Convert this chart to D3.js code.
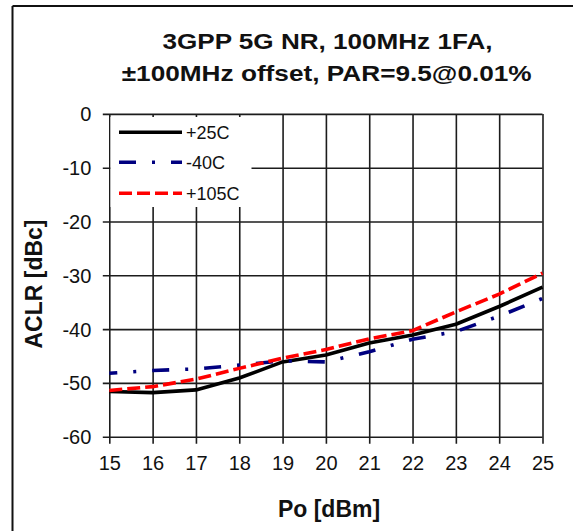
<!DOCTYPE html>
<html><head><meta charset="utf-8">
<script src="https://cdn.jsdelivr.net/npm/d3@7"></script>
<style>
html,body{margin:0;padding:0;background:#fff;}
svg{display:block;}
text{font-family:"Liberation Sans",Arial,sans-serif;fill:#111;}
</style></head>
<body>
<svg id="c" width="573" height="531"></svg>
<script>
const titleLines = ["3GPP 5G NR, 100MHz 1FA,", "\u00b1100MHz offset, PAR=9.5@0.01%"];
const xLabel = "Po [dBm]";
const yLabel = "ACLR [dBc]";
const po = [15, 16, 17, 18, 19, 20, 21, 22, 23, 24, 25];
const xTicks = [15, 16, 17, 18, 19, 20, 21, 22, 23, 24, 25];
const yTicks = [0, -10, -20, -30, -40, -50, -60];
const seriesNames = ["+25C", "-40C", "+105C"];
const aclr25 = [-51.6, -51.8, -51.3, -49.1, -46.1, -44.8, -42.6, -41.1, -39.1, -35.8, -32.2];
const aclrM40 = [-48.2, -47.7, -47.4, -46.7, -45.9, -46.1, -44.2, -41.9, -40.45, -37.6, -34.3];
const aclr105 = [-51.4, -50.7, -49.3, -47.3, -45.4, -43.8, -41.8, -40.3, -36.8, -33.5, -29.6];

const series = [
  {name: seriesNames[0], values: aclr25, color: "#000000", dash: null, offset: 0},
  {name: seriesNames[1], values: aclrM40, color: "#000080", dash: "17,16,3,16", offset: 9},
  {name: seriesNames[2], values: aclr105, color: "#ff0000", dash: "13,5", offset: 0}
];

const svg = d3.select("#c");
const L = 109.3, R = 542.5, T = 113.9, B = 436.7;
const x = d3.scaleLinear().domain([15, 25]).range([L, R]);
const y = d3.scaleLinear().domain([-60, 0]).range([B, T]);
const gridColor = "#1c1c1c";
const fmt = d => String(d);

// outer frame
svg.append("line").attr("x1", 12.5).attr("x2", 573).attr("y1", 6).attr("y2", 6)
  .attr("stroke", "#111").attr("stroke-width", 2);
svg.append("line").attr("x1", 12.5).attr("x2", 12.5).attr("y1", 6).attr("y2", 531)
  .attr("stroke", "#111").attr("stroke-width", 2);

// title
svg.append("text").attr("x", 327.5).attr("y", 48.5).attr("text-anchor", "middle")
  .attr("font-weight", "bold").attr("font-size", 22)
  .attr("textLength", 330).attr("lengthAdjust", "spacingAndGlyphs").text(titleLines[0]);
svg.append("text").attr("x", 326.7).attr("y", 81).attr("text-anchor", "middle")
  .attr("font-weight", "bold").attr("font-size", 22)
  .attr("textLength", 410).attr("lengthAdjust", "spacingAndGlyphs").text(titleLines[1]);

// grid via axes
const xGrid = svg.append("g").attr("transform", `translate(0,${B})`)
  .call(d3.axisBottom(x).tickValues(xTicks).tickSizeOuter(0).tickFormat(""));
xGrid.select(".domain").remove();
xGrid.selectAll(".tick line").attr("stroke", gridColor).attr("stroke-width", 1.6).attr("y2", 7).attr("y1", -(B - T));

const yGrid = svg.append("g").attr("transform", `translate(${L},0)`)
  .call(d3.axisLeft(y).tickValues(yTicks).tickSizeOuter(0).tickFormat(""));
yGrid.select(".domain").remove();
yGrid.selectAll(".tick line").attr("stroke", gridColor).attr("stroke-width", 1.6).attr("x1", -6.5).attr("x2", R - L);

// legend background (hides grid)
svg.append("rect").attr("x", 110.5).attr("y", 117).attr("width", 141).attr("height", 90).attr("fill", "#fff");

// tick labels
const xAx = svg.append("g").attr("transform", `translate(0,${B})`)
  .call(d3.axisBottom(x).tickValues(xTicks).tickSize(0).tickPadding(0).tickFormat(fmt));
xAx.select(".domain").remove();
xAx.selectAll("text").attr("font-size", 20).attr("fill", "#111").attr("dy", null).attr("y", 33.5)
  .attr("font-family", "Liberation Sans, Arial, sans-serif");

const yAx = svg.append("g").attr("transform", `translate(${L},0)`)
  .call(d3.axisLeft(y).tickValues(yTicks).tickSize(0).tickPadding(0).tickFormat(fmt));
yAx.select(".domain").remove();
yAx.selectAll("text").attr("font-size", 20).attr("fill", "#111").attr("x", -18).attr("dy", "0.35em")
  .attr("font-family", "Liberation Sans, Arial, sans-serif");

// axis titles
svg.append("text").attr("x", 329).attr("y", 517).attr("text-anchor", "middle")
  .attr("font-weight", "bold").attr("font-size", 23).text(xLabel);
svg.append("text").attr("transform", "translate(42,284) rotate(-90)").attr("text-anchor", "middle")
  .attr("font-weight", "bold").attr("font-size", 23).text(yLabel);

// lines
const line = d3.line().x((d, i) => x(po[i])).y(d => y(d));
series.forEach(s => {
  const p = svg.append("path").datum(s.values).attr("d", line)
    .attr("fill", "none").attr("stroke", s.color).attr("stroke-width", 3.6)
    .attr("stroke-linejoin", "round");
  if (s.dash) p.attr("stroke-dasharray", s.dash).attr("stroke-dashoffset", s.offset);
});

// legend
const legY = [132.3, 162.3, 193.3];
series.forEach((s, i) => {
  const ln = svg.append("line").attr("x1", 119).attr("x2", 182).attr("y1", legY[i]).attr("y2", legY[i])
    .attr("stroke", s.color).attr("stroke-width", 3.6);
  if (s.dash) ln.attr("stroke-dasharray", s.dash);
  svg.append("text").attr("x", 186).attr("y", legY[i]).attr("dy", "0.36em")
    .attr("font-size", 18).text(s.name);
});
</script>
</body></html>
